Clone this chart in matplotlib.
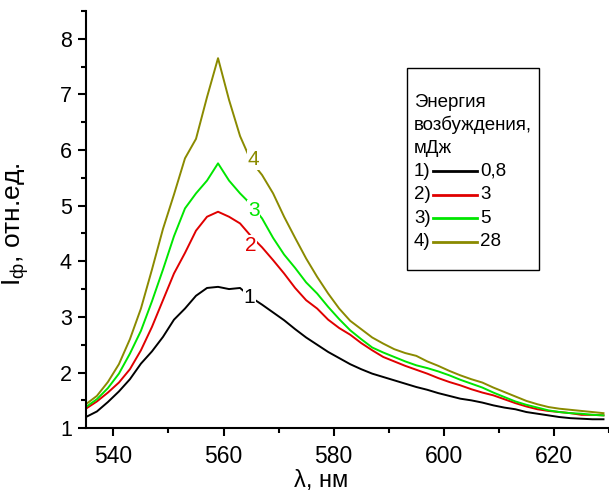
import matplotlib
matplotlib.use("Agg")
import matplotlib.pyplot as plt
from matplotlib.ticker import MultipleLocator
from matplotlib.patches import Rectangle

plt.rcParams['font.family'] = ['Liberation Sans', 'DejaVu Sans']
plt.rcParams['mathtext.default'] = 'regular'

# wavelength, nm
wavelength = list(range(535, 630, 2))

# curve 1, 0.8 mJ
i_08 = [1.20, 1.30, 1.47, 1.66, 1.88, 2.16, 2.38, 2.64, 2.95, 3.15,
        3.38, 3.52, 3.54, 3.50, 3.52, 3.35, 3.22, 3.08, 2.94, 2.78,
        2.63, 2.50, 2.37, 2.26, 2.15, 2.06, 1.98, 1.92, 1.86, 1.80,
        1.74, 1.69, 1.63, 1.58, 1.53, 1.50, 1.46, 1.41, 1.37, 1.34,
        1.29, 1.26, 1.23, 1.20, 1.18, 1.17, 1.16, 1.16]
# curve 2, 3 mJ
i_3 = [1.35, 1.48, 1.64, 1.82, 2.06, 2.40, 2.82, 3.30, 3.78, 4.15,
       4.55, 4.80, 4.89, 4.80, 4.68, 4.45, 4.25, 4.02, 3.78, 3.52,
       3.30, 3.15, 2.95, 2.80, 2.68, 2.53, 2.40, 2.28, 2.20, 2.12,
       2.05, 1.98, 1.90, 1.83, 1.77, 1.70, 1.64, 1.59, 1.52, 1.45,
       1.39, 1.34, 1.31, 1.29, 1.27, 1.24, 1.24, 1.23]
# curve 3, 5 mJ
i_5 = [1.38, 1.52, 1.72, 1.98, 2.34, 2.75, 3.28, 3.85, 4.45, 4.95,
       5.22, 5.45, 5.76, 5.45, 5.22, 5.02, 4.77, 4.42, 4.12, 3.88,
       3.62, 3.42, 3.18, 2.96, 2.76, 2.60, 2.45, 2.36, 2.28, 2.20,
       2.13, 2.08, 2.02, 1.95, 1.87, 1.80, 1.73, 1.64, 1.56, 1.48,
       1.42, 1.37, 1.32, 1.29, 1.27, 1.26, 1.24, 1.23]
# curve 4, 28 mJ
i_28 = [1.43, 1.58, 1.83, 2.15, 2.60, 3.15, 3.85, 4.58, 5.20, 5.85,
        6.20, 6.95, 7.65, 6.90, 6.25, 5.80, 5.55, 5.22, 4.80, 4.42,
        4.05, 3.72, 3.42, 3.15, 2.93, 2.78, 2.63, 2.52, 2.42, 2.35,
        2.30, 2.20, 2.12, 2.03, 1.95, 1.88, 1.82, 1.73, 1.65, 1.57,
        1.49, 1.43, 1.38, 1.35, 1.33, 1.31, 1.29, 1.27]

series = [i_08, i_3, i_5, i_28]
numbers = ['1', '2', '3', '4']
energies = ['0,8', '3', '5', '28']
colors = ['#000000', '#e00000', '#00e600', '#8a8a00']
# where the curve numbers sit (nm, intensity)
label_x = [564.7, 564.9, 565.5, 565.4]
label_y = [3.34, 4.29, 4.92, 5.82]

fig = plt.figure(figsize=(6.09, 4.95), dpi=100)
ax = fig.add_axes([0.141, 0.135, 0.859, 0.843])

for y, c in zip(series, colors):
    ax.plot(wavelength, y, color=c, lw=1.4)

for n, lx, ly, c in zip(numbers, label_x, label_y, colors):
    ax.text(lx, ly, n, color=c, fontsize=15, ha='center', va='center',
            bbox=dict(facecolor='white', edgecolor='none', pad=0.5))

ax.set_xlim(535, 630)
ax.set_ylim(1, 8.5)
ax.xaxis.set_major_locator(MultipleLocator(20))
ax.xaxis.set_minor_locator(MultipleLocator(10))
ax.yaxis.set_major_locator(MultipleLocator(1))
ax.yaxis.set_minor_locator(MultipleLocator(0.5))
ax.spines['top'].set_visible(False)
ax.spines['right'].set_visible(False)
for s in ['left', 'bottom']:
    ax.spines[s].set_linewidth(1.5)
ax.tick_params(which='major', direction='out', length=6, width=1.5)
ax.tick_params(which='minor', direction='out', length=3.5, width=1.5)
ax.tick_params(axis='x', labelsize=16.5, pad=6)
ax.tick_params(axis='y', labelsize=15.5, pad=4)

ax.set_xlabel('λ, нм', fontsize=17)
ax.xaxis.set_label_coords(0.45, -0.1)
ax.set_ylabel('I$_ф$, отн.ед.', fontsize=19)
ax.yaxis.set_label_coords(-0.105, 0.49)

# legend box drawn by hand
tr = ax.transAxes
box = Rectangle((0.614, 0.378), 0.252, 0.484, transform=tr, fill=False,
                edgecolor='black', lw=1.0, clip_on=False)
ax.add_patch(box)
for i, t in enumerate(['Энергия', 'возбуждения,', 'мДж']):
    ax.text(0.627, 0.781 - i * 0.055, t, transform=tr, fontsize=13.5,
            va='center', ha='left')
for i, (n, e, c) in enumerate(zip(numbers, energies, colors)):
    yy = 0.616 - i * 0.0565
    ax.text(0.627, yy, n + ')', transform=tr, fontsize=13.5, va='center', ha='left')
    ax.plot([0.664, 0.748], [yy, yy], transform=tr, color=c, lw=2, clip_on=False)
    ax.text(0.754, yy, e, transform=tr, fontsize=13.5, va='center', ha='left')

fig.savefig('out.png', dpi=100)
